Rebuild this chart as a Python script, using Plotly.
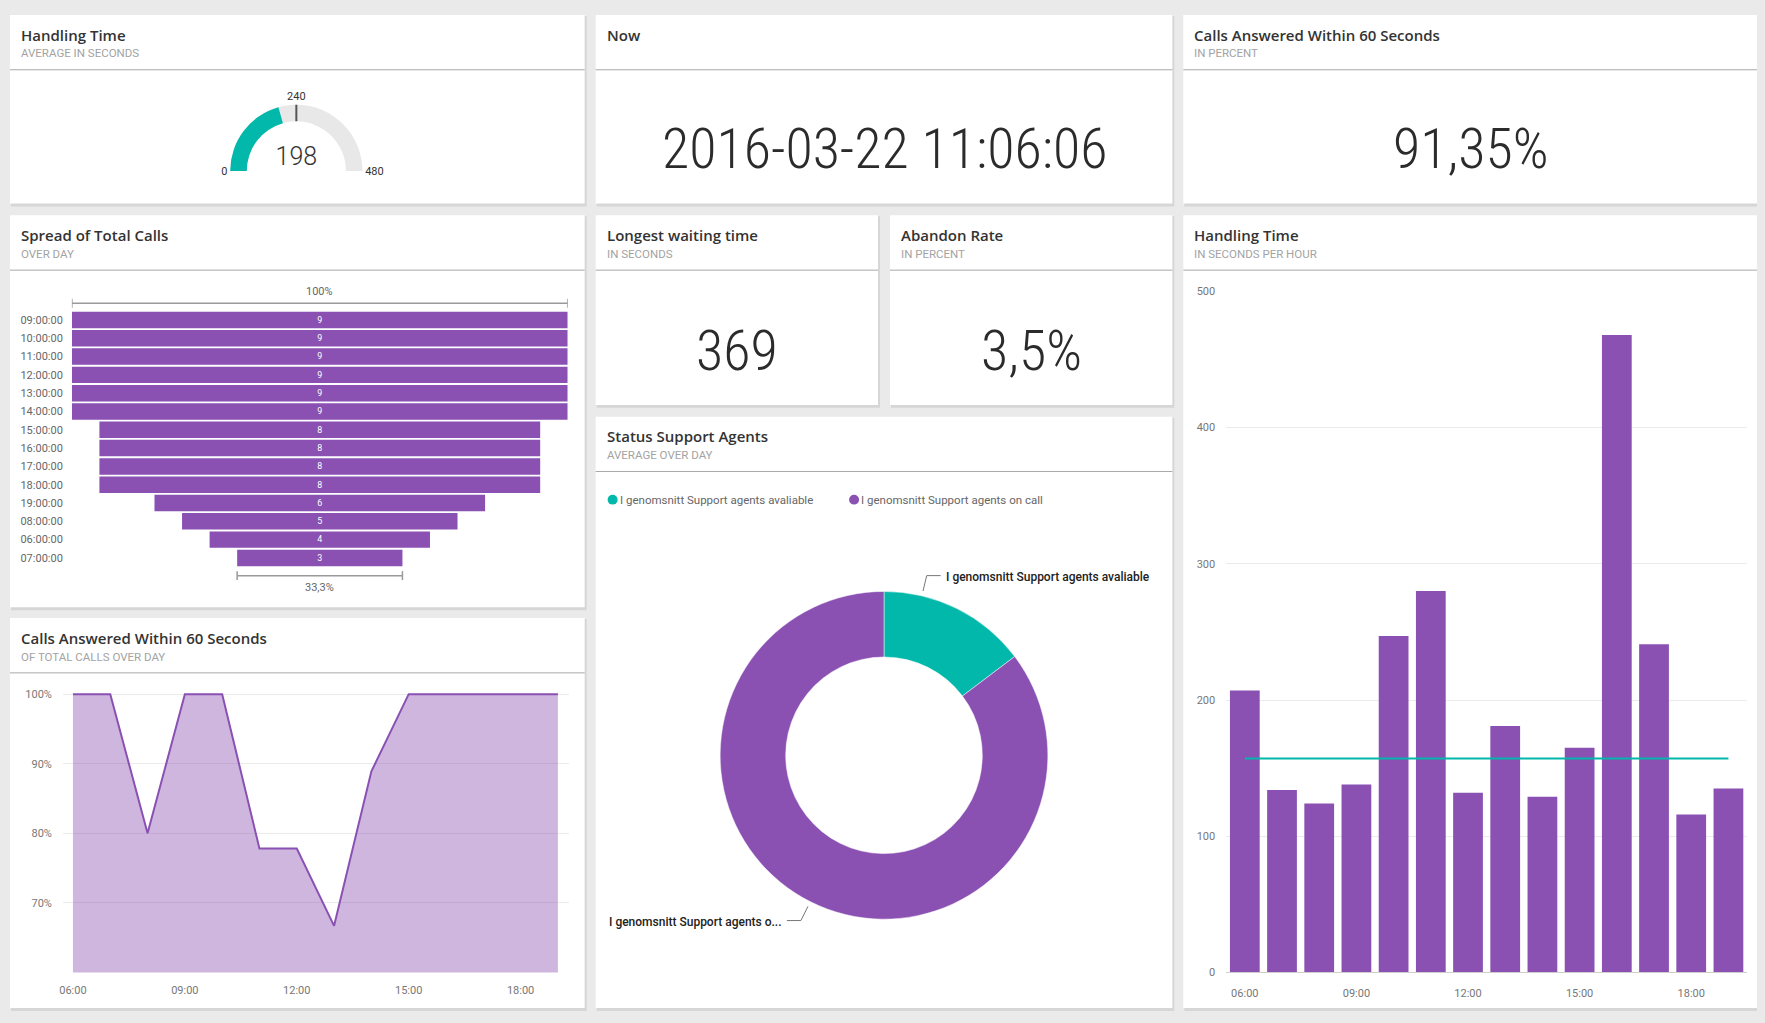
import math
import plotly.graph_objects as go

# page is 1765x1023; the html body keeps an 8px margin, so the figure is 16px smaller
PAGE_W, PAGE_H = 1765, 1023
OFF = 8
W, H = PAGE_W - 2 * OFF, PAGE_H - 2 * OFF

# ---------------- data ----------------
gauge_value = 198
gauge_min = 0
gauge_max = 480
gauge_target = 240

now_text = "2016-03-22 11:06:06"
calls_within_60_pct = 91.35
longest_wait_s = 369
abandon_rate_pct = 3.5

funnel_hours = ["09:00:00", "10:00:00", "11:00:00", "12:00:00", "13:00:00", "14:00:00",
                "15:00:00", "16:00:00", "17:00:00", "18:00:00", "19:00:00", "08:00:00",
                "06:00:00", "07:00:00"]
funnel_calls = [9, 9, 9, 9, 9, 9, 8, 8, 8, 8, 6, 5, 4, 3]

hours = ["06:00", "07:00", "08:00", "09:00", "10:00", "11:00", "12:00",
         "13:00", "14:00", "15:00", "16:00", "17:00", "18:00", "19:00"]
hour_ticks = ["06:00", "09:00", "12:00", "15:00", "18:00"]
answered_pct = [100, 100, 80, 100, 100, 77.8, 77.8, 66.7, 88.9, 100, 100, 100, 100, 100]
answered_ticks = [70, 80, 90, 100]
handling_s = [207, 134, 124, 138, 247, 280, 132, 181, 129, 165, 468, 241, 116, 135]
handling_ref = 157
handling_ticks = [0, 100, 200, 300, 400, 500]

agent_labels = ["I genomsnitt Support agents avaliable", "I genomsnitt Support agents on call"]
agent_values = [14.7, 85.3]

# ---------------- style ----------------
PURPLE = "#8A51B3"
TEAL = "#01B8AA"
FILL = "rgba(138,81,179,0.42)"
BG = "#EAEAEA"
TITLE_FONT = "Segoe UI Semibold, Open Sans, Noto Sans, sans-serif"
SUB_FONT = "Roboto, Noto Sans, sans-serif"
NUM_FONT = ("Noto Sans Condensed Light, Noto Sans Condensed, Roboto Condensed, "
            "Liberation Sans Narrow, Roboto, sans-serif")
LBL_FONT = "Roboto, Noto Sans, sans-serif"


def px(x):
    return (x - OFF) / W


def py(y):
    return 1 - (y - OFF) / H


def fmt(v, nd):
    return f"{v:.{nd}f}".replace(".", ",")


fig = go.Figure()
shapes = []
annotations = []

panels = [
    # x0, x1, y0, y1, title, subtitle
    (6, 582, 9, 200, "Handling Time", "AVERAGE IN SECONDS"),
    (593, 1171, 9, 200, "Now", ""),
    (1182, 1758, 9, 200, "Calls Answered Within 60 Seconds", "IN PERCENT"),
    (6, 582, 212, 609, "Spread of Total Calls", "OVER DAY"),
    (593, 876, 212, 404, "Longest waiting time", "IN SECONDS"),
    (888, 1171, 212, 404, "Abandon Rate", "IN PERCENT"),
    (1182, 1758, 212, 1015, "Handling Time", "IN SECONDS PER HOUR"),
    (593, 1171, 416, 1015, "Status Support Agents", "AVERAGE OVER DAY"),
    (6, 582, 620, 1015, "Calls Answered Within 60 Seconds", "OF TOTAL CALLS OVER DAY"),
]

for (x0, x1, y0, y1, title, sub) in panels:
    shapes.append(dict(type="rect", xref="paper", yref="paper", layer="below",
                       x0=px(x0 + 1), x1=px(x1 + 2), y0=py(y1 + 3), y1=py(y0 + 1),
                       fillcolor="#D6D6D6", line=dict(width=0)))
    shapes.append(dict(type="rect", xref="paper", yref="paper", layer="below",
                       x0=px(x0), x1=px(x1), y0=py(y1), y1=py(y0),
                       fillcolor="white", line=dict(width=0)))
    shapes.append(dict(type="line", xref="paper", yref="paper", layer="below",
                       x0=px(x0), x1=px(x1), y0=py(y0 + 55.5), y1=py(y0 + 55.5),
                       line=dict(color="#A8A8A8", width=1)))
    annotations.append(dict(xref="paper", yref="paper", x=px(x0 + 9), y=py(y0 + 20),
                            xanchor="left", yanchor="middle", showarrow=False, text=title,
                            font=dict(family=TITLE_FONT, size=15, color="#333333", weight=600)))
    if sub:
        annotations.append(dict(xref="paper", yref="paper", x=px(x0 + 9), y=py(y0 + 39),
                                xanchor="left", yanchor="middle", showarrow=False, text=sub,
                                font=dict(family=SUB_FONT, size=11.5, color="#A3A3A3")))

# ---------------- big numbers ----------------
big = [
    (882, 145, now_text),
    (1470, 145, fmt(calls_within_60_pct, 2) + "%"),
    (734.5, 349, str(longest_wait_s)),
    (1029.5, 349, fmt(abandon_rate_pct, 1) + "%"),
]
for (x, y, t) in big:
    annotations.append(dict(xref="paper", yref="paper", x=px(x), y=py(y), xanchor="center",
                            yanchor="middle", showarrow=False, text=t,
                            font=dict(family=NUM_FONT, size=56, color="#2B2B2B", weight=300)))

# ---------------- gauge ----------------
fig.add_trace(go.Indicator(
    mode="gauge+number", value=gauge_value,
    domain=dict(x=[px(193), px(393)], y=[py(167), py(100)]),
    number=dict(font=dict(family="Roboto, sans-serif", size=25, color="#333333", weight=300)),
    gauge=dict(
        shape="angular",
        axis=dict(range=[gauge_min, gauge_max], tickvals=[gauge_min, gauge_target, gauge_max],
                  ticks="", tickwidth=0,
                  tickfont=dict(family=LBL_FONT, size=11, color="#333333")),
        bar=dict(color=TEAL, thickness=1.0, line=dict(width=0)),
        bgcolor="#E8E8E8", borderwidth=0,
        threshold=dict(value=gauge_target, line=dict(color="#555555", width=2), thickness=1.0),
    )))

# ---------------- funnel ----------------
fig.add_trace(go.Funnel(
    x=funnel_calls, y=funnel_hours, xaxis="x", yaxis="y",
    marker=dict(color=PURPLE, line=dict(width=0)),
    connector=dict(visible=False),
    textinfo="value", textposition="inside", insidetextanchor="middle",
    textfont=dict(family=LBL_FONT, size=11, color="white"),
    showlegend=False, hoverinfo="skip"))

fmax = max(funnel_calls)
top_pct = funnel_calls[0] / fmax * 100
bot_pct = funnel_calls[-1] / funnel_calls[0] * 100
for (half, ly, ty, pct) in [(funnel_calls[0] / 2, 301, 289, top_pct),
                            (funnel_calls[-1] / 2, 577, 589, bot_pct)]:
    shapes.append(dict(type="line", xref="x", yref="paper", x0=-half, x1=half,
                       y0=py(ly), y1=py(ly), line=dict(color="#9A9A9A", width=1.5)))
    for sx in (-half, half):
        shapes.append(dict(type="line", xref="x", yref="paper", x0=sx, x1=sx,
                           y0=py(ly - 4.5), y1=py(ly + 4.5), line=dict(color="#9A9A9A", width=1.5)))
    txt = (f"{pct:.0f}" if abs(pct - round(pct)) < 1e-9 else fmt(pct, 1)) + "%"
    annotations.append(dict(xref="x", yref="paper", x=0, y=py(ty), xanchor="center",
                            yanchor="middle", showarrow=False, text=txt,
                            font=dict(family=LBL_FONT, size=11, color="#666666")))

# ---------------- area line ----------------
fig.add_trace(go.Scatter(
    x=hours, y=answered_pct, xaxis="x2", yaxis="y2", mode="lines",
    line=dict(color=PURPLE, width=2), fill="tozeroy", fillcolor=FILL,
    showlegend=False, hoverinfo="skip"))

# ---------------- bars ----------------
fig.add_trace(go.Bar(
    x=hours, y=handling_s, xaxis="x3", yaxis="y3",
    marker=dict(color=PURPLE, line=dict(width=0)), showlegend=False, hoverinfo="skip"))
fig.add_trace(go.Scatter(
    x=hours, y=[handling_ref] * len(hours), xaxis="x3", yaxis="y3", mode="lines",
    line=dict(color=TEAL, width=2), showlegend=False, hoverinfo="skip"))

# ---------------- donut ----------------
cx, cy, R = 882, 759, 166
fig.add_trace(go.Pie(
    labels=agent_labels, values=agent_values, hole=0.6, sort=False, direction="clockwise",
    rotation=0, marker=dict(colors=[TEAL, PURPLE], line=dict(color="white", width=0.5)),
    textinfo="none", showlegend=False, hoverinfo="skip",
    domain=dict(x=[px(cx - R), px(cx + R)], y=[py(cy + R), py(cy - R)])))

legend_x = [610, 852]
for lx, lab, col in zip(legend_x, agent_labels, [TEAL, PURPLE]):
    shapes.append(dict(type="circle", xref="paper", yref="paper",
                       x0=px(lx - 5), x1=px(lx + 5), y0=py(500 + 5), y1=py(500 - 5),
                       fillcolor=col, line=dict(width=0)))
    annotations.append(dict(xref="paper", yref="paper", x=px(lx + 5), y=py(500),
                            xanchor="left", yanchor="middle", showarrow=False, text=lab,
                            font=dict(family=LBL_FONT, size=11.5, color="#666666")))

label_frac = [0.25, 0.5]
total = sum(agent_values)
cum = 0.0
for i, (lab, v) in enumerate(zip(agent_labels, agent_values)):
    f0 = cum / total
    f1 = (cum + v) / total
    cum += v
    th = 2 * math.pi * (f0 + label_frac[i] * (f1 - f0))
    s, c = math.sin(th), math.cos(th)
    tx, ty = cx + (R + 5) * s, cy - (R + 5) * c
    ex, ey = cx + (R + 21) * s, cy - (R + 21) * c
    side = 1 if s >= 0 else -1
    hx = ex + side * 14
    shapes.append(dict(type="path", xref="paper", yref="paper",
                       path=f"M {px(tx)},{py(ty)} L {px(ex)},{py(ey)} L {px(hx)},{py(ey)}",
                       line=dict(color="#777777", width=1)))
    text = lab if side > 0 else lab[:29] + "..."
    annotations.append(dict(xref="paper", yref="paper", x=px(hx + side * 3), y=py(ey + 1),
                            xanchor="left" if side > 0 else "right", yanchor="middle",
                            showarrow=False, text=text,
                            font=dict(family=LBL_FONT, size=12, color="#222222", weight=500)))

# ---------------- layout ----------------
tickfont = dict(family=LBL_FONT, size=11, color="#777777")
fig.update_layout(
    width=W, height=H, margin=dict(l=0, r=0, t=0, b=0),
    paper_bgcolor=BG, plot_bgcolor="rgba(0,0,0,0)",
    showlegend=False, funnelgap=0.1, bargap=0.2,
    shapes=shapes, annotations=annotations,
    xaxis=dict(domain=[px(68), px(565)], range=[-fmax / 2, fmax / 2], visible=False,
               anchor="y", fixedrange=True),
    yaxis=dict(domain=[py(568.3), py(308.7)], type="category", categoryorder="array",
               categoryarray=funnel_hours, range=[len(funnel_hours) - 0.5, -0.5],
               showgrid=False, zeroline=False, ticks="", ticklabelstandoff=8,
               tickfont=dict(family=LBL_FONT, size=11, color="#666666"), anchor="x"),
    xaxis2=dict(domain=[px(59), px(566)], type="category", categoryorder="array",
                categoryarray=hours, range=[-0.27, len(hours) - 1 + 0.29],
                tickvals=hour_ticks, showgrid=False, zeroline=False, ticks="",
                ticklabelstandoff=10, tickfont=tickfont, anchor="y2"),
    yaxis2=dict(domain=[py(979), py(690)], range=[60, 101], tickvals=answered_ticks,
                ticktext=[f"{v}%" for v in answered_ticks],
                gridcolor="#EBEBEB", zeroline=False, ticks="",
                ticklabelstandoff=10, tickfont=tickfont, anchor="x2"),
    xaxis3=dict(domain=[px(1225), px(1747)], type="category", categoryorder="array",
                categoryarray=hours, tickvals=hour_ticks, showgrid=False, zeroline=False,
                ticks="", showline=True, linecolor="#CFCFCF", linewidth=1,
                ticklabelstandoff=10, tickfont=tickfont, anchor="y3"),
    yaxis3=dict(domain=[py(979), py(289)], range=[0, 500], tickvals=handling_ticks,
                gridcolor="#EBEBEB", zeroline=False, ticks="", ticklabelstandoff=10,
                tickfont=tickfont, anchor="x3"),
)

fig.write_html("out.html", config={"displayModeBar": False},
               post_script="document.body.style.background='#EAEAEA';")
